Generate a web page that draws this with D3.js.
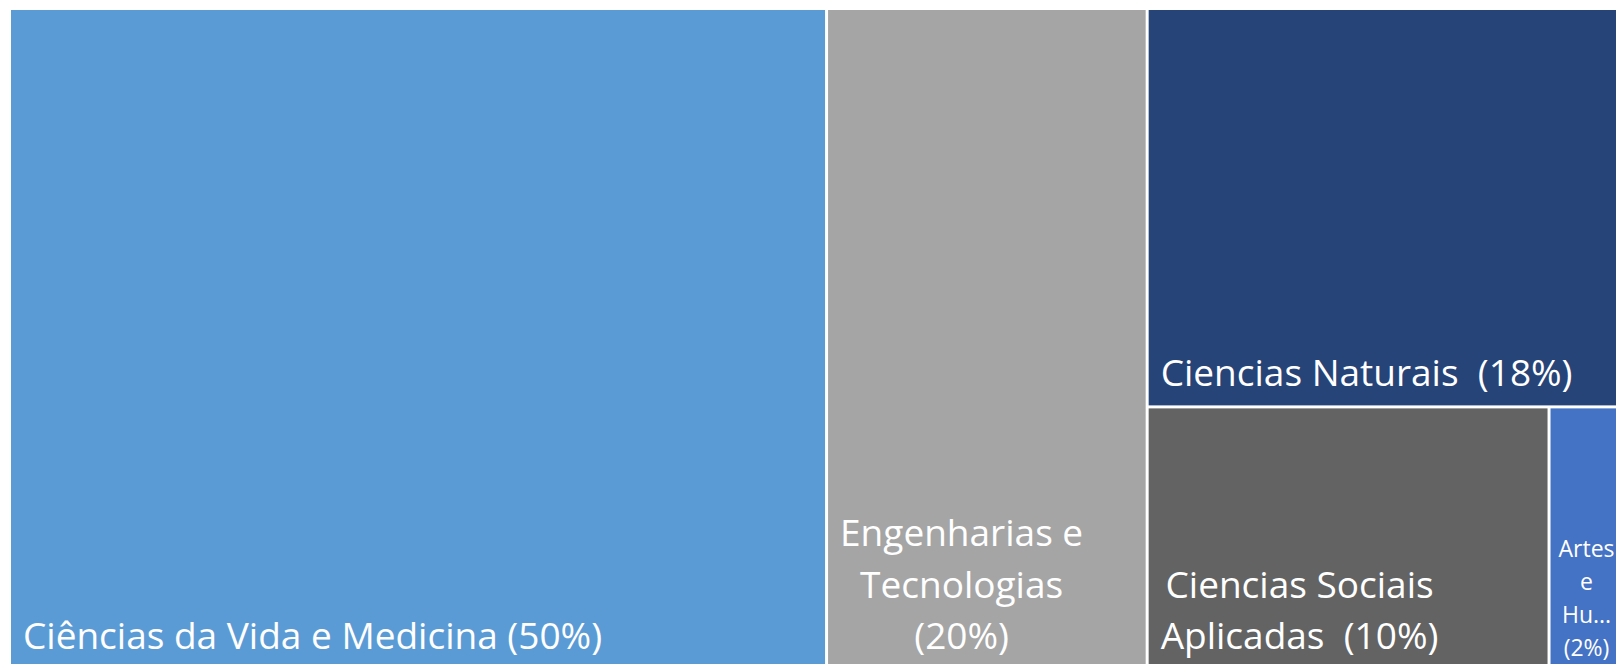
<!DOCTYPE html>
<html>
<head>
<meta charset="utf-8">
<script src="https://cdn.jsdelivr.net/npm/d3@7"></script>
<style>
  html, body { margin: 0; padding: 0; background: #fff; overflow: hidden; }
  svg { display: block; }
  text { font-family: "Open Sans", "Noto Sans", sans-serif; fill: #fff; white-space: pre; }
</style>
</head>
<body>
<div id="chart"></div>
<script>
// area shares (%), labels as shown
const categories = ["Ciências da Vida e Medicina", "Engenharias e Tecnologias", "Ciencias Naturais",
                    "Ciencias Sociais Aplicadas", "Artes e Humanidades"];
const values = [50.56, 19.84, 17.84, 9.88, 1.88];
const labelLines = [
  ["Ciências da Vida e Medicina (50%)"],
  ["Engenharias e", "Tecnologias", "(20%)"],
  ["Ciencias Naturais  (18%)"],
  ["Ciencias Sociais", "Aplicadas  (10%)"],
  ["Artes", "e", "Hu...", "(2%)"]
];
const palette = ["#5B9BD5", "#A5A5A5", "#264478", "#636363", "#4472C4"];

const width = 1616, height = 664;
const margin = {top: 10, left: 11};
const W = 1613, H = 658;   // plot runs past the right/bottom edge of the frame

const svg = d3.select("#chart").append("svg")
              .attr("width", width)
              .attr("height", height);

const g = svg.append("g")
             .attr("transform", `translate(${margin.left},${margin.top})`);

const colour = d3.scaleOrdinal(categories, palette);

const root = d3.hierarchy({children: categories.map((c,i)=>({name: c, value: values[i], lines: labelLines[i]}))})
               .sum(d=>d.value || 0)
               .sort((a,b)=>b.value - a.value);

d3.treemap()
  .tile(d3.treemapBinary)
  .size([W, H])
  .paddingInner(3)
  (root);

const cell = g.selectAll("g.cell")
              .data(root.leaves())
              .join("g")
              .attr("class","cell");

cell.append("rect")
    .attr("x", d=>d.x0)
    .attr("y", d=>d.y0)
    .attr("width",  d=>d.x1 - d.x0)
    .attr("height", d=>d.y1 - d.y0)
    .attr("fill", d=>colour(d.data.name));

cell.each(function(d){
  const small = (d.x1 - d.x0) < 120;
  const fs    = small ? 23 : 37;
  const lh    = small ? 33 : 51.5;
  const padL  = small ? 8 : 12;
  const padB  = small ? 12 : 19;
  const lines = d.data.lines;

  const txt = d3.select(this).selectAll("text")
                .data(lines)
                .join("text")
                .attr("font-size", fs + "px")
                .attr("text-anchor", "middle")
                .text(t=>t);

  let maxW = 0;
  txt.each(function(){ maxW = Math.max(maxW, this.getComputedTextLength()); });

  txt.attr("x", d.x0 + padL + maxW/2)
     .attr("y", (t,i)=> d.y1 - padB - (lines.length - 1 - i)*lh);
});
</script>
</body>
</html>
